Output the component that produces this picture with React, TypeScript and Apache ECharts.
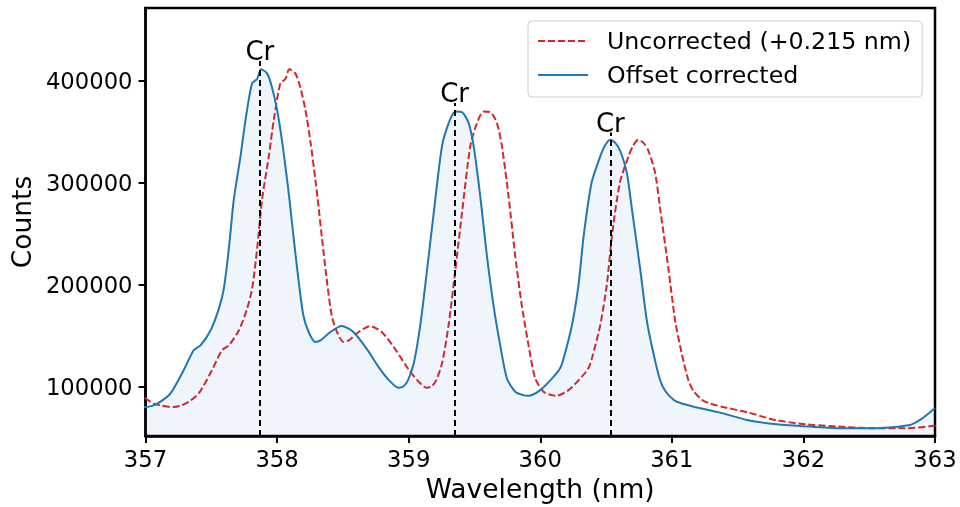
import React, { useEffect, useRef } from "react";
import * as echarts from "echarts";

// Offset-corrected wavelength (nm) and counts
const wavelengths = [
  356.78, 356.845, 356.9, 356.97, 357.0, 357.05, 357.114, 357.19, 357.29, 357.366,
  357.418, 357.494, 357.557, 357.595, 357.633, 357.671, 357.722, 357.76, 357.81, 357.848,
  357.878, 357.924, 357.96, 358.0, 358.04, 358.076, 358.094, 358.127, 358.165, 358.2,
  358.24, 358.29, 358.33, 358.405, 358.49, 358.58, 358.68, 358.78, 358.85, 358.92,
  358.96, 358.995, 359.04, 359.09, 359.14, 359.19, 359.253, 359.304, 359.354, 359.405,
  359.456, 359.494, 359.544, 359.595, 359.645, 359.696, 359.747, 359.81, 359.87, 359.91,
  360.0, 360.1, 360.15, 360.177, 360.24, 360.29, 360.33, 360.39, 360.456, 360.49,
  360.53, 360.57, 360.608, 360.658, 360.7, 360.76, 360.81, 360.86, 360.91,
  360.95, 361.013, 361.06, 361.165, 361.367, 361.57, 361.797, 362.05, 362.3, 362.557,
  362.81, 362.886, 362.95, 363.0,
];
const counts = [
  89500, 83700, 82000, 80500, 80500, 81500, 85600, 93700, 116400, 135900,
  140700, 155300, 176500, 196000, 235000, 283600, 325800, 361500, 397300, 401500,
  411000, 407000, 394000, 371300, 338800, 303000, 283600, 244600, 202500, 170000,
  153800, 144000, 145600, 153800, 159600, 153800, 137500, 118000, 106700, 99300,
  100500, 106700, 124000, 162000, 215000, 270000, 335500, 358300, 369600, 369000,
  358300, 335500, 286800, 228000, 179700, 140700, 108300, 95300, 92000, 91400,
  96900, 109900, 118000, 127800, 160000, 199200, 248000, 300000, 325800, 336000,
  342000, 339000, 331000, 309600, 271000, 215000, 165000, 133000, 107000,
  96000, 87500, 84500, 80700, 74900, 67700, 63500, 61200, 59600, 59600,
  62800, 67700, 74000, 79500,
];
const OFFSET_NM = 0.215;

const crLines = [357.869, 359.349, 360.533];
const crTops = [419000, 378000, 349000];

const xTicks = [357, 358, 359, 360, 361, 362, 363];
const yTicks = [100000, 200000, 300000, 400000];
const Y_MIN = 52000;
const Y_MAX = 471000;

const FONT = "DejaVu Sans";

export default function App() {
  const ref = useRef<HTMLDivElement>(null);
  useEffect(() => {
    if (!ref.current) return;
    const chart = echarts.init(ref.current, null, { renderer: "svg" });
    const blue = wavelengths.map((w, i) => [w, counts[i]]);
    const red = wavelengths.map((w, i) => [+(w + OFFSET_NM).toFixed(3), counts[i]]);
    chart.setOption({
      animation: false,
      textStyle: { fontFamily: FONT },
      grid: {
        left: 145,
        right: 25,
        top: 8,
        bottom: 69,
        show: true,
        borderColor: "#000",
        borderWidth: 2.5,
        backgroundColor: "transparent",
      },
      legend: {
        orient: "vertical",
        left: 528,
        top: 21,
        padding: [7, 11, 9, 9],
        itemGap: 8,
        itemWidth: 50,
        itemHeight: 14,
        backgroundColor: "rgba(255,255,255,0.8)",
        borderColor: "#cccccc",
        borderWidth: 1,
        borderRadius: 4,
        itemStyle: { opacity: 0 },
        data: ["Uncorrected (+0.215 nm)", "Offset corrected"],
        textStyle: {
          fontFamily: FONT,
          fontSize: 23.7,
          color: "#000",
          lineHeight: 26,
          padding: [0, 0, 0, 14],
        },
      },
      xAxis: {
        type: "value",
        min: xTicks[0],
        max: xTicks[xTicks.length - 1],
        interval: 1,
        name: "Wavelength (nm)",
        nameLocation: "middle",
        nameGap: 39,
        nameTextStyle: { fontFamily: FONT, fontSize: 26.5, color: "#000" },
        axisLine: { show: true, lineStyle: { color: "#000", width: 2.5 } },
        axisTick: { show: true, length: 7, lineStyle: { color: "#000", width: 2 } },
        axisLabel: {
          fontFamily: FONT,
          fontSize: 22.7,
          color: "#000",
          margin: 11,
          formatter: (v: number) => String(v),
        },
        splitLine: { show: false },
      },
      yAxis: {
        type: "value",
        min: Y_MIN,
        max: Y_MAX,
        name: "Counts",
        nameLocation: "middle",
        nameGap: 108,
        nameTextStyle: { fontFamily: FONT, fontSize: 26.5, color: "#000" },
        axisLine: { show: true, lineStyle: { color: "#000", width: 2.5 } },
        axisTick: {
          show: true,
          length: 7,
          lineStyle: { color: "#000", width: 2 },
          customValues: yTicks,
        },
        axisLabel: {
          fontFamily: FONT,
          fontSize: 22.7,
          color: "#000",
          margin: 13,
          customValues: yTicks,
          formatter: (v: number) => String(v),
        },
        splitLine: { show: false },
      },
      series: [
        {
          name: "Uncorrected (+0.215 nm)",
          type: "line",
          data: red,
          symbol: "none",
          smooth: 0.25,
          clip: true,
          lineStyle: { color: "#d62728", width: 2, type: [7, 3] },
          itemStyle: { color: "#d62728" },
          z: 2,
        },
        {
          name: "Offset corrected",
          type: "line",
          data: blue,
          symbol: "none",
          smooth: 0.25,
          clip: true,
          lineStyle: { color: "#1f77b4", width: 2 },
          itemStyle: { color: "#1f77b4" },
          areaStyle: { color: "rgba(31,119,180,0.1)", origin: "start" },
          z: 3,
          markLine: {
            silent: true,
            symbol: "none",
            lineStyle: { color: "#000", width: 2, type: [6, 4] },
            label: {
              show: true,
              position: "end",
              formatter: "Cr",
              fontFamily: FONT,
              fontSize: 26,
              color: "#000",
              distance: -3,
            },
            data: crLines.map((w, i) => [
              { coord: [w, Y_MIN] },
              { coord: [w, crTops[i]] },
            ]),
          },
        },
      ],
    });
    return () => chart.dispose();
  }, []);
  return (
    <div
      ref={ref}
      style={{ position: "fixed", left: 0, top: 0, width: 960, height: 507 }}
    />
  );
}
